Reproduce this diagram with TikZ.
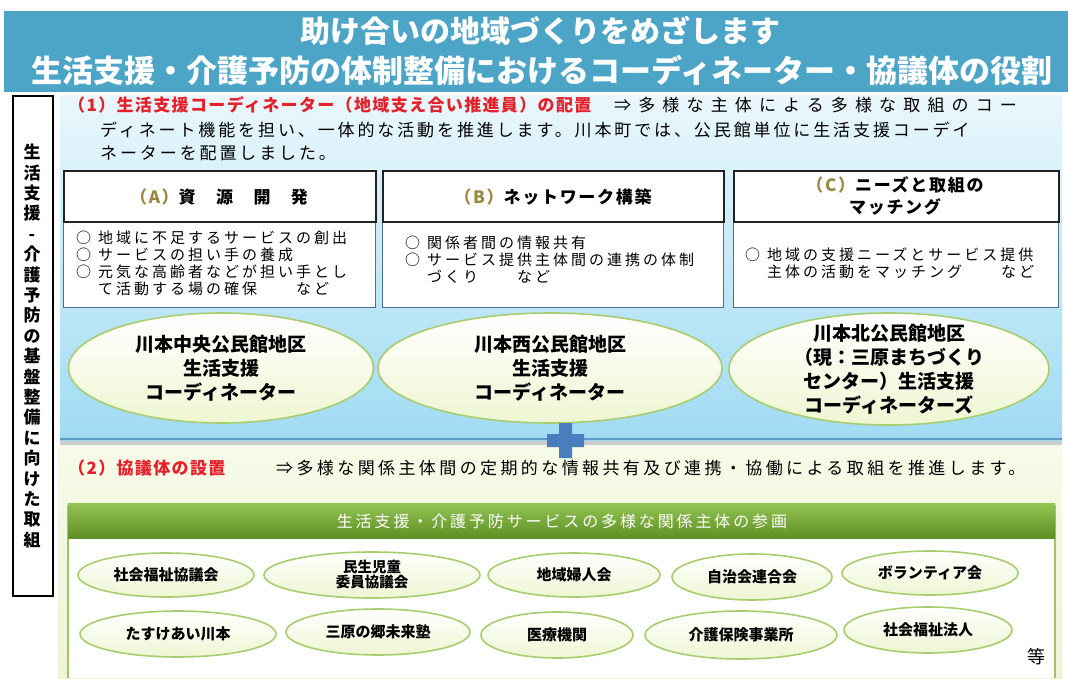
\documentclass[tikz,border=0pt]{standalone}
\usepackage{fontspec}
\setmainfont{Noto Sans CJK JP}
\usetikzlibrary{shapes.geometric}
\definecolor{titlebg}{HTML}{4CA5C6}
\definecolor{skytop}{HTML}{EAF7FC}
\definecolor{skybot}{HTML}{A0DBF3}
\definecolor{skyline}{HTML}{5B9BC8}
\definecolor{ellgreen}{HTML}{A8CD6E}
\definecolor{ellfill}{HTML}{EEF6D2}
\definecolor{plusblue}{HTML}{4A7DBD}
\definecolor{barlight}{HTML}{93C452}
\definecolor{bardark}{HTML}{5F8F25}
\definecolor{paletop}{HTML}{F6FAE8}
\definecolor{palebot}{HTML}{EDF5D6}
\definecolor{hred}{HTML}{E5202A}
\definecolor{olive}{HTML}{9A8840}
\definecolor{boxline}{HTML}{222222}
\definecolor{bodyline}{HTML}{4F6F90}
\definecolor{panelgreen}{HTML}{9CC765}
\newcommand\fs[2]{\fontsize{#1}{#2}\selectfont}
\newcommand\lsp[1]{\addfontfeatures{LetterSpace=#1}}
\newcommand\bul{○\hspace{7pt}}
\newcommand\indt{\phantom{○}\hspace{7pt}}
\tikzset{
  bigell/.style={ellipse, draw=ellgreen, line width=1.6pt, top color=white, bottom color=ellfill, inner sep=0pt},
  smallell/.style={ellipse, draw=ellgreen, line width=1.6pt, top color=white, bottom color=ellfill, inner sep=0pt},
  bigtxt/.style={align=center, inner sep=0pt, font=\fs{19}{24}\bfseries},
  smalltxt/.style={align=center, inner sep=0pt, font=\fs{15}{16}\bfseries},
  bodytxt/.style={anchor=north west, align=left, inner sep=0pt, font=\fs{15}{16.8}\lsp{20}},
  hdrtxt/.style={align=center, inner sep=0pt, font=\fs{17}{22}\bfseries\lsp{10}},
  hdrbox/.style={anchor=north west, draw=boxline, line width=1.8pt, fill=white, inner sep=0pt},
  bodybox/.style={anchor=north west, draw=bodyline, line width=1.2pt, fill=white, inner sep=0pt},
  linetxt/.style={anchor=west, inner sep=0pt, font=\fs{17}{20}\lsp{17}},
}
\begin{document}
\begin{tikzpicture}[x=1pt,y=-1pt]
\useasboundingbox (0,0) rectangle (1068,678);
\fill[white] (0,0) rectangle (1068,678);
% title
\fill[titlebg] (4,11) rectangle (1068,92);
\node[text=white, inner sep=0pt, font=\fs{30}{30}\bfseries] (t1) at (540,31) {助け合いの地域づくりをめざします};
\node[text=white, inner sep=0pt, font=\fs{31}{31}\bfseries] (t2) at (542,70) {生活支援・介護予防の体制整備におけるコーディネーター・協議体の役割};
% left vertical box
\node[draw=black, line width=2pt, fill=white, anchor=north west, minimum width=40pt, minimum height=500pt, inner sep=0pt] (lbox) at (12,95) {};
\node[align=center, inner sep=0pt, font=\fs{17}{20.4}\bfseries] (ltxt) at (32,346) {生\\活\\支\\援\\-\\介\\護\\予\\防\\の\\基\\盤\\整\\備\\に\\向\\け\\た\\取\\組};
% blue section
\shade[top color=skytop, bottom color=skybot] (60,95) rectangle (1062,440);
\draw[skyline, line width=1.2pt] (60,439) -- (1062,439);
\fill[gray!40] (60,441) rectangle (1062,445);
% heading (1)
\node[linetxt, text=hred, font=\fs{17}{20}\bfseries\lsp{8}] (h1) at (68,105) {（1）生活支援コーディネーター（地域支え合い推進員）の配置};
\node[linetxt, font=\fs{17}{20}\lsp{42}] (h1b) at (614,105) {⇒多様な主体による多様な取組のコー};
\node[linetxt] (h1c) at (100,130) {ディネート機能を担い、一体的な活動を推進します。川本町では、公民館単位に生活支援コーデイ};
\node[linetxt] (h1d) at (100,153) {ネーターを配置しました。};
% box A
\node[bodybox, minimum width=312pt, minimum height=86pt] (abody) at (63,221) {};
\node[hdrbox, minimum width=312pt, minimum height=51pt] (ahdr) at (63,170) {};
\node[hdrtxt] (ahtxt) at (219,197) {{\color{olive}（A）}資　源　開　発};
\node[bodytxt] (abtxt) at (76,231) {\bul 地域に不足するサービスの創出\\\bul サービスの担い手の養成\\\bul 元気な高齢者などが担い手とし\\\indt て活動する場の確保　　など};
% box B
\node[bodybox, minimum width=341pt, minimum height=86pt] (bbody) at (382,221) {};
\node[hdrbox, minimum width=341pt, minimum height=51pt] (bhdr) at (382,170) {};
\node[hdrtxt] (bhtxt) at (553,197) {{\color{olive}（B）}ネットワーク構築};
\node[bodytxt] (bbtxt) at (405,236) {\bul 関係者間の情報共有\\\bul サービス提供主体間の連携の体制\\\indt づくり　　など};
% box C
\node[bodybox, minimum width=325pt, minimum height=86pt] (cbody) at (733,221) {};
\node[hdrbox, minimum width=325pt, minimum height=51pt] (chdr) at (733,170) {};
\node[hdrtxt] (chtxt) at (895,196) {{\color{olive}（C）}ニーズと取組の\\マッチング};
\node[bodytxt] (cbtxt) at (745,248) {\bul 地域の支援ニーズとサービス提供\\\indt 主体の活動をマッチング　　など};
% coordinator ellipses
\node[bigell, minimum width=305pt, minimum height=110pt] (e1) at (221,368) {};
\node[bigtxt] (e1t) at (e1) {川本中央公民館地区\\生活支援\\コーディネーター};
\node[bigell, minimum width=344pt, minimum height=110pt] (e2) at (550,368) {};
\node[bigtxt] (e2t) at (e2) {川本西公民館地区\\生活支援\\コーディネーター};
\node[bigell, minimum width=320pt, minimum height=112pt] (e3) at (889,369) {};
\node[bigtxt] (e3t) at (e3) {川本北公民館地区\\（現：三原まちづくり\\センター）生活支援\\コーディネーターズ};
% bottom section
\shade[top color=paletop, bottom color=palebot] (58,445) rectangle (1062,678);
\node[linetxt, text=hred, font=\fs{17}{20}\bfseries\lsp{8}] (h2) at (68,468) {（2）協議体の設置};
\node[linetxt, font=\fs{17}{20}\lsp{20}] (h2b) at (276,468) {⇒多様な関係主体間の定期的な情報共有及び連携・協働による取組を推進します。};
% panel
\fill[white] (68,505) rectangle (1055,678);
\draw[panelgreen, line width=1.5pt] (68,505) -- (68,678) (1055,505) -- (1055,678);
\shade[top color=barlight, bottom color=bardark] (68,503) rectangle (1055,538);
\node[text=white, inner sep=0pt, font=\fs{16}{18}\lsp{18}] (bar) at (562,521) {生活支援・介護予防サービスの多様な関係主体の参画};
% plus
\fill[plusblue] (559,423) rectangle (572,458) (547,434) rectangle (584,447);
% small ellipses row 1
\node[smallell, minimum width=176pt, minimum height=44pt] (s1) at (166,575) {};
\node[smalltxt] (s1t) at (s1) {社会福祉協議会};
\node[smallell, minimum width=216pt, minimum height=46pt] (s2) at (372,575) {};
\node[smalltxt, font=\fs{14.5}{15}\bfseries] (s2t) at (s2) {民生児童\\委員協議会};
\node[smallell, minimum width=172pt, minimum height=44pt] (s3) at (574,575) {};
\node[smalltxt] (s3t) at (s3) {地域婦人会};
\node[smallell, minimum width=160pt, minimum height=46pt] (s4) at (752,577) {};
\node[smalltxt] (s4t) at (s4) {自治会連合会};
\node[smallell, minimum width=176pt, minimum height=44pt] (s5) at (930,573) {};
\node[smalltxt] (s5t) at (s5) {ボランティア会};
% small ellipses row 2
\node[smallell, minimum width=196pt, minimum height=46pt] (r1) at (178,634) {};
\node[smalltxt] (r1t) at (r1) {たすけあい川本};
\node[smallell, minimum width=184pt, minimum height=46pt] (r2) at (378,632) {};
\node[smalltxt] (r2t) at (r2) {三原の郷未来塾};
\node[smallell, minimum width=152pt, minimum height=46pt] (r3) at (557,635) {};
\node[smalltxt] (r3t) at (r3) {医療機関};
\node[smallell, minimum width=192pt, minimum height=48pt] (r4) at (741,635) {};
\node[smalltxt] (r4t) at (r4) {介護保険事業所};
\node[smallell, minimum width=168pt, minimum height=46pt] (r5) at (928,630) {};
\node[smalltxt] (r5t) at (r5) {社会福祉法人};
\node[inner sep=0pt, font=\fs{18}{18}] (etc) at (1036,657) {等};
\end{tikzpicture}
\end{document}
